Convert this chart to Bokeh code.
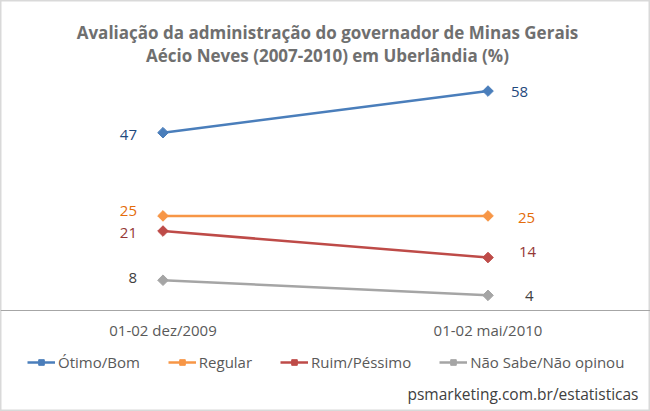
from bokeh.plotting import figure
from bokeh.models import (ColumnDataSource, FactorRange, Range1d, Legend,
                          LegendItem, Label, Span)
from bokeh.embed import file_html
from bokeh.resources import INLINE
from math import pi

# Survey waves
categories = ["01-02 dez/2009", "01-02 mai/2010"]

# Share of respondents per answer (%)
series_names = ["Ótimo/Bom", "Regular", "Ruim/Péssimo", "Não Sabe/Não opinou"]
otimo_bom = [47, 58]
regular = [25, 25]
ruim_pessimo = [21, 14]
nao_sabe = [8, 4]

title_lines = [
    "Avaliação da administração do governador de Minas Gerais",
    "Aécio Neves (2007-2010) em Uberlândia (%)",
]
source_text = "psmarketing.com.br/estatisticas"

# Styling per series: line colour, value-label colour, label nudges (px)
line_colors = ["#4a7ebb", "#f79646", "#be4b48", "#a5a5a5"]
label_colors = ["#1f497d", "#e46c0a", "#953735", "#404040"]
right_label_dx = [23, 30, 31, 37]
left_label_dy = [2, -5, 2, -2]
right_label_dy = [1, 2, -6, 1]

FONT = "Open Sans"
TEXT_GRAY = "#595959"

# Canvas layout: the plotting area spans the whole canvas; the value axis
# (0..60) occupies pixel rows 83..310, leaving room for title and legend.
W, H = 650, 411
AXIS_TOP_PX, AXIS_BOTTOM_PX, Y_MAX = 83, 310, 60
px_per_unit = (AXIS_BOTTOM_PX - AXIS_TOP_PX) / Y_MAX
y_lo = -(H - AXIS_BOTTOM_PX) / px_per_unit
y_hi = Y_MAX + AXIS_TOP_PX / px_per_unit

p = figure(
    width=W, height=H,
    x_range=FactorRange(*categories),
    y_range=Range1d(y_lo, y_hi),
    x_axis_location=None, y_axis_location=None,
    output_backend="svg", toolbar_location=None,
    min_border=0,
)
p.xgrid.visible = False
p.ygrid.visible = False
p.background_fill_color = "white"
p.border_fill_color = "white"
p.outline_line_color = "#d9d9d9"
p.outline_line_width = 2

# Category axis baseline at zero
p.add_layout(Span(location=0, dimension="width", line_color="#a6a6a6",
                  line_width=1))

# Category labels under the baseline
cat_src = ColumnDataSource(dict(x=categories, y=[0] * len(categories),
                                text=categories))
p.text("x", "y", text="text", source=cat_src, y_offset=19,
       text_align="center", text_baseline="middle",
       text_font={"value": FONT}, text_font_size="15px",
       text_color=TEXT_GRAY)

all_values = [otimo_bom, regular, ruim_pessimo, nao_sabe]
legend_items = []
for i, (name, vals) in enumerate(zip(series_names, all_values)):
    src = ColumnDataSource(dict(x=categories, y=vals))
    ln = p.line("x", "y", source=src, line_color=line_colors[i], line_width=2.5)
    mk = p.scatter("x", "y", source=src, marker="square", angle=pi / 4,
                   size=7.5, fill_color=line_colors[i], line_color=line_colors[i])
    legend_items.append(LegendItem(label=name, renderers=[ln, mk]))

    lab = ColumnDataSource(dict(
        x=categories, y=vals, text=[str(v) for v in vals],
        dx=[-26, right_label_dx[i]],
        dy=[left_label_dy[i], right_label_dy[i]],
        align=["right", "left"],
    ))
    p.text("x", "y", text="text", source=lab, x_offset="dx", y_offset="dy",
           text_align="align", text_baseline="middle",
           text_font={"value": FONT}, text_font_size="15px",
           text_color=label_colors[i])

# Horizontal legend near the bottom (pixels from bottom-left corner)
legend = Legend(
    items=legend_items, orientation="horizontal", location=(27, 39),
    glyph_width=28, glyph_height=14, label_standoff=3, spacing=28,
    padding=0, margin=0, border_line_color=None, background_fill_alpha=0,
    label_text_font=FONT, label_text_font_size="15px",
    label_text_color=TEXT_GRAY,
)
p.add_layout(legend, "center")

# Two-line title
for txt, y in zip(title_lines, [H - 32, H - 55]):
    p.add_layout(Label(
        x=W / 2 + 2, y=y, x_units="screen", y_units="screen", text=txt,
        text_align="center", text_baseline="middle",
        text_font=FONT, text_font_size="17px", text_font_style="bold",
        text_color="#6f6f6f",
    ))

p.add_layout(Label(
    x=W - 12, y=18, x_units="screen", y_units="screen", text=source_text,
    text_align="right", text_baseline="middle",
    text_font=FONT, text_font_size="15.5px", text_color="#404040",
))

open("out.html", "w").write(file_html(p, INLINE))
